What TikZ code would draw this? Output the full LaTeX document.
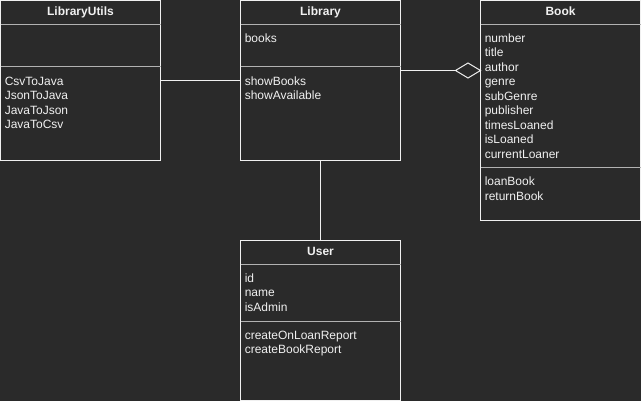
\documentclass[tikz,border=0pt]{standalone}
\usepackage{fontspec}
\setmainfont{Liberation Sans}
\usepackage{xcolor}
\usepackage{tikz}
\usetikzlibrary{calc,shapes.geometric}
\definecolor{canvas}{RGB}{42,42,42}
\definecolor{ink}{RGB}{240,240,240}
\definecolor{divider}{RGB}{178,178,178}
\newcommand{\px}{0.75pt}
\tikzset{
  classbox/.style={draw=ink, line width=\px, fill=canvas, anchor=north west,
    minimum width=160*\px, inner sep=0pt, outer sep=0pt},
  title/.style={anchor=base, inner sep=0pt, text=ink,
    font=\bfseries\fontsize{9}{11}\selectfont},            % class name
  member/.style={anchor=base west, inner sep=0pt, text=ink,
    font=\fontsize{9}{11}\selectfont},                     % field or method
  divide/.style={draw=divider, line width=\px},
  link/.style={draw=ink, line width=\px},
  aggdiamond/.style={diamond, draw=ink, fill=canvas, line width=\px, inner sep=0pt,
    outer sep=0pt, minimum width=25*\px, minimum height=15*\px}
}
\newcommand{\ClassBox}[5]{% name, x, y, height, class name
  \node[classbox, minimum height=#4*\px] (#1) at (#2,#3) {};
  \node[title] (#1-title) at ($(#1.north)+(0,15)$) {#5};
  \draw[divide] ($(#1.north west)+(0,24)$) -- ($(#1.north east)+(0,24)$);
}
\newcommand{\Divider}[2]{% name, offset from top
  \draw[divide] ($(#1.north west)+(0,#2)$) -- ($(#1.north east)+(0,#2)$);
}
\newcommand{\MemberList}[4]{% name, tag, first baseline, entries
  \foreach \m [count=\k from 0] in {#4}{%
    \node[member] (#1-#2\k) at ($(#1.north west)+(4,{#3+14.5*\k})$) {\m};
  }%
}

\begin{document}
\begin{tikzpicture}[x=\px, y=-\px]
  \fill[canvas] (0,0) rectangle (641,401);
  \useasboundingbox (0,0) rectangle (641,401);
  % the four classes
  \ClassBox{utils}{0.5}{0.5}{160}{LibraryUtils}
  \Divider{utils}{66}
  \MemberList{utils}{m}{84.5}{CsvToJava,JsonToJava,JavaToJson,JavaToCsv}
  \ClassBox{lib}{240.5}{0.5}{160}{Library}
  \Divider{lib}{66}
  \MemberList{lib}{f}{41.5}{books}
  \MemberList{lib}{m}{84.5}{showBooks,showAvailable}
  \ClassBox{book}{480.5}{0.5}{220}{Book}
  \Divider{book}{167}
  \MemberList{book}{f}{41.5}{number,title,author,genre,subGenre,publisher,timesLoaned,isLoaned,currentLoaner}
  \MemberList{book}{m}{185}{loanBook,returnBook}
  \ClassBox{user}{240.5}{240.5}{160}{User}
  \Divider{user}{81}
  \MemberList{user}{f}{41.5}{id,name,isAdmin}
  \MemberList{user}{m}{98.5}{createOnLoanReport,createBookReport}
  % associations
  \draw[link] (utils) -- (lib);
  \draw[link] (lib) -- (user);
  \node[aggdiamond, anchor=east] (agg) at ($(book.north west)+(0,70)$) {};
  \draw[link] (lib.east |- agg) -- (agg);
\end{tikzpicture}
\end{document}
